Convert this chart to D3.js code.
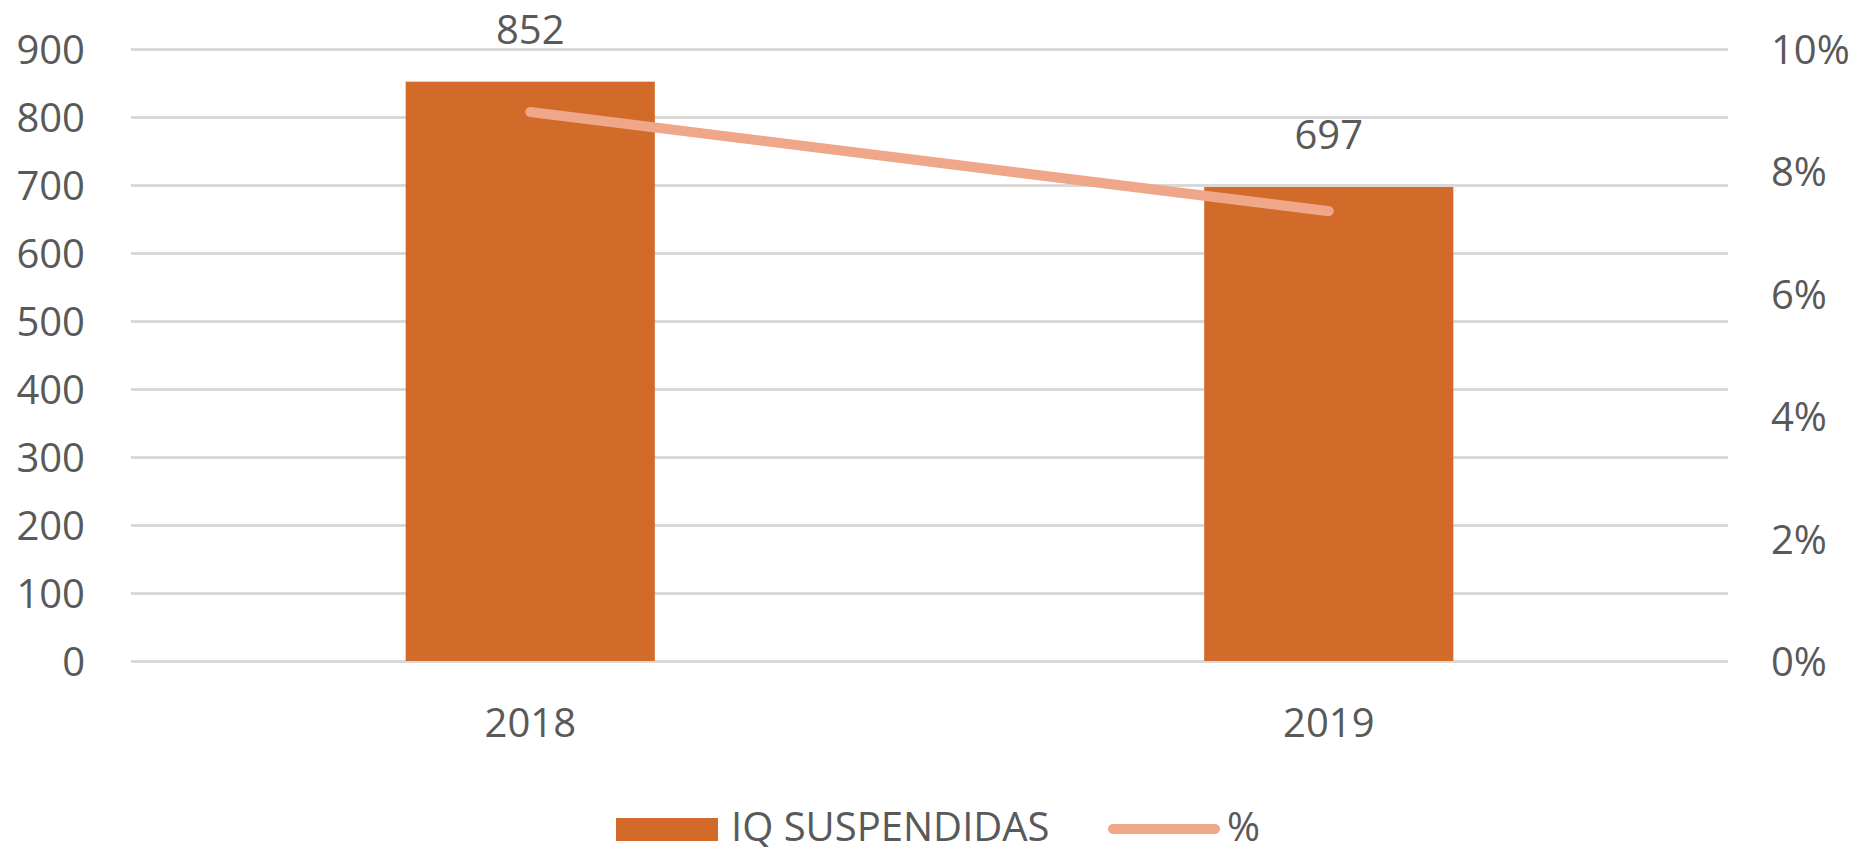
<!DOCTYPE html>
<html>
<head>
<meta charset="utf-8">
<script src="https://cdn.jsdelivr.net/npm/d3@7"></script>
<style>
  body { margin: 0; background: #fff; }
  #chart { width: 1857px; height: 847px; }
  text { font-family: "Open Sans", "Noto Sans", sans-serif; fill: #595959; }
</style>
</head>
<body>
<div id="chart"></div>
<script>
const years = ["2018", "2019"];
const suspendidas = [852, 697];
const percent = [0.0897, 0.0735];
const leftTicks = [0, 100, 200, 300, 400, 500, 600, 700, 800, 900];
const rightTicks = [0, 0.02, 0.04, 0.06, 0.08, 0.1];

const width = 1857, height = 847;
const margin = { top: 49, right: 129, bottom: 186, left: 131 };
const innerWidth = width - margin.left - margin.right;
const barColor = "#d26b2a";
const lineColor = "#f0a688";
const fontSize = "40px";

const svg = d3.select("#chart")
  .append("svg")
  .attr("width", width)
  .attr("height", height);

const xScale = d3.scaleBand()
  .domain(years)
  .range([margin.left, width - margin.right])
  .paddingInner(0.688)
  .paddingOuter(0.344);

const yScale = d3.scaleLinear()
  .domain([0, 900])
  .range([height - margin.bottom, margin.top]);

const yPct = d3.scaleLinear()
  .domain([0, 0.1])
  .range([height - margin.bottom, margin.top]);

// gridlines
const grid = svg.append("g")
  .attr("transform", `translate(${margin.left}, 0)`)
  .call(d3.axisLeft(yScale).tickValues(leftTicks).tickSize(-innerWidth).tickFormat(""));
grid.select(".domain").remove();
grid.selectAll("line").attr("stroke", "#d9d9d9").attr("stroke-width", 3);

// left axis labels
const yAxisLeft = svg.append("g")
  .attr("transform", `translate(${margin.left}, 0)`)
  .call(d3.axisLeft(yScale).tickValues(leftTicks).tickSize(0).tickPadding(46));
yAxisLeft.select(".domain").remove();
yAxisLeft.selectAll("text").style("font-size", fontSize).attr("fill", "#595959").attr("dy", "0.36em");

// right axis labels
const yAxisRight = svg.append("g")
  .attr("transform", `translate(${width - margin.right}, 0)`)
  .call(d3.axisRight(yPct).tickValues(rightTicks).tickSize(0).tickPadding(43).tickFormat(d3.format(".0%")));
yAxisRight.select(".domain").remove();
yAxisRight.selectAll("text").style("font-size", fontSize).attr("fill", "#595959").attr("dy", "0.36em");

// x axis
const xAxis = svg.append("g")
  .attr("transform", `translate(0, ${height - margin.bottom})`)
  .call(d3.axisBottom(xScale).tickSize(0).tickPadding(48));
xAxis.select(".domain").remove();
xAxis.selectAll("text").style("font-size", fontSize).attr("fill", "#595959");

// bars
svg.selectAll(".bar")
  .data(years)
  .enter()
  .append("rect")
  .attr("class", "bar")
  .attr("x", d => xScale(d))
  .attr("y", (d, i) => yScale(suspendidas[i]))
  .attr("width", xScale.bandwidth())
  .attr("height", (d, i) => yScale(0) - yScale(suspendidas[i]))
  .attr("fill", barColor);

// bar labels
svg.selectAll(".bar-label")
  .data(years)
  .enter()
  .append("text")
  .attr("class", "bar-label")
  .attr("x", d => xScale(d) + xScale.bandwidth() / 2)
  .attr("y", (d, i) => yScale(suspendidas[i]) - 38)
  .attr("text-anchor", "middle")
  .style("font-size", fontSize)
  .text((d, i) => suspendidas[i]);

// percent line
const line = d3.line()
  .x(d => xScale(d.year) + xScale.bandwidth() / 2)
  .y(d => yPct(d.value));

svg.append("path")
  .datum(years.map((y, i) => ({ year: y, value: percent[i] })))
  .attr("d", line)
  .attr("fill", "none")
  .attr("stroke", lineColor)
  .attr("stroke-width", 10)
  .attr("stroke-linecap", "round");

// legend
const legend = svg.append("g");
legend.append("rect")
  .attr("x", 616).attr("y", 818)
  .attr("width", 102).attr("height", 23)
  .attr("fill", barColor);
legend.append("text")
  .attr("x", 731).attr("y", 841)
  .style("font-size", fontSize)
  .text("IQ SUSPENDIDAS");
legend.append("line")
  .attr("x1", 1113).attr("x2", 1215)
  .attr("y1", 829).attr("y2", 829)
  .attr("stroke", lineColor)
  .attr("stroke-width", 10)
  .attr("stroke-linecap", "round");
legend.append("text")
  .attr("x", 1227).attr("y", 841)
  .style("font-size", fontSize)
  .text("%");
</script>
</body>
</html>
